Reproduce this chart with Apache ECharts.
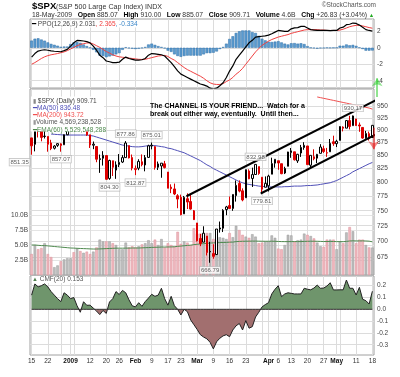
<!DOCTYPE html>
<html><head><meta charset="utf-8">
<script src="https://cdn.jsdelivr.net/npm/echarts@6/dist/echarts.min.js"></script>
<style>html,body{margin:0;padding:0;background:#fff}#c{width:400px;height:377px}</style>
</head><body><div id="c"></div>
<script>
const dates = ['Dec 15','Dec 16','Dec 17','Dec 18','Dec 19','Dec 22','Dec 23','Dec 24','Dec 26','Dec 29','Dec 30','Dec 31','Jan 2','Jan 5','Jan 6','Jan 7','Jan 8','Jan 9','Jan 12','Jan 13','Jan 14','Jan 15','Jan 16','Jan 20','Jan 21','Jan 22','Jan 23','Jan 26','Jan 27','Jan 28','Jan 29','Jan 30','Feb 2','Feb 3','Feb 4','Feb 5','Feb 6','Feb 9','Feb 10','Feb 11','Feb 12','Feb 13','Feb 17','Feb 18','Feb 19','Feb 20','Feb 23','Feb 24','Feb 25','Feb 26','Feb 27','Mar 2','Mar 3','Mar 4','Mar 5','Mar 6','Mar 9','Mar 10','Mar 11','Mar 12','Mar 13','Mar 16','Mar 17','Mar 18','Mar 19','Mar 20','Mar 23','Mar 24','Mar 25','Mar 26','Mar 27','Mar 30','Mar 31','Apr 1','Apr 2','Apr 3','Apr 6','Apr 7','Apr 8','Apr 9','Apr 13','Apr 14','Apr 15','Apr 16','Apr 17','Apr 20','Apr 21','Apr 22','Apr 23','Apr 24','Apr 27','Apr 28','Apr 29','Apr 30','May 1','May 4','May 5','May 6','May 7','May 8','May 11','May 12','May 13','May 14','May 15','May 18'];

const open = [884.28,871.53,908.16,905.98,886.96,887.20,874.31,863.87,869.51,872.37,
870.58,890.59,902.99,929.17,931.17,927.45,905.73,909.91,890.40,869.79,
867.28,841.99,844.45,849.64,806.77,839.74,822.16,832.50,837.30,845.73,
868.89,845.69,823.09,825.69,837.77,831.75,846.09,868.24,866.87,827.41,
829.91,833.95,818.61,791.06,787.91,775.87,773.25,744.69,770.64,765.76,
749.93,729.57,704.44,698.60,708.27,684.04,680.76,679.28,719.59,720.89,
751.97,758.84,753.88,776.01,797.92,784.58,772.31,820.60,806.81,814.06,
828.68,809.07,790.88,793.59,814.53,835.13,839.75,834.12,816.76,829.29,
855.33,856.88,839.44,854.54,865.18,868.27,831.25,847.26,844.62,853.91,
862.82,854.48,856.85,876.59,872.74,879.21,906.10,903.95,919.58,909.03,
922.99,910.52,905.40,884.24,892.76,885.07];
const high = [884.28,914.66,908.16,911.02,905.47,887.37,880.44,869.79,873.74,873.70,
891.12,910.32,934.73,936.63,943.85,927.45,910.00,911.93,890.40,877.02,
867.28,851.59,858.13,849.64,841.72,839.74,838.61,852.53,850.45,877.86,
868.89,851.66,830.78,842.60,851.85,850.55,870.75,875.01,868.05,838.22,
835.48,839.43,818.61,796.17,797.58,778.69,777.85,775.49,780.12,779.42,
751.27,729.57,711.67,724.12,708.27,699.09,695.27,719.60,731.92,752.63,
758.29,774.53,778.12,803.04,803.24,788.91,823.37,823.65,826.78,832.98,
828.68,809.07,810.48,813.62,845.61,842.50,839.75,834.12,828.42,856.91,
864.31,856.88,852.93,870.35,875.63,868.27,850.09,861.78,852.87,871.80,
868.83,864.48,882.06,888.70,880.48,907.85,907.70,920.28,929.58,930.17,
922.99,915.57,905.40,898.36,896.97,910.00];
const low = [851.35,857.72,885.11,877.44,883.02,857.09,860.10,861.44,866.52,857.07,
870.58,889.67,899.35,919.53,927.28,902.37,896.81,888.31,864.32,862.02,
836.93,817.04,830.66,804.47,804.30,811.29,806.07,827.69,835.40,845.73,
844.15,821.67,812.87,821.98,829.18,819.91,845.42,861.65,822.99,822.30,
808.06,825.21,789.17,780.43,777.03,754.25,742.37,744.69,752.89,751.75,
734.52,699.70,692.30,698.60,677.93,666.79,672.88,679.28,713.85,714.76,
742.46,753.37,749.93,765.64,781.82,766.20,772.31,805.48,791.37,814.06,
813.43,779.81,790.88,783.32,814.53,826.70,822.79,814.53,814.84,829.29,
845.35,840.25,835.58,847.04,860.87,832.39,826.83,840.57,835.45,853.91,
854.65,847.12,856.85,868.51,866.10,879.21,897.34,903.95,901.36,909.03,
908.68,896.46,882.52,882.52,878.94,885.07];
const close = [868.57,913.18,904.42,885.28,887.88,871.63,863.16,868.15,872.80,869.42,
890.64,903.25,931.80,927.45,934.70,906.65,909.73,890.35,870.26,871.79,
842.62,843.74,850.12,805.22,840.24,827.50,831.95,836.57,845.71,874.09,
845.14,825.88,825.44,838.51,832.23,845.85,868.60,869.89,827.16,833.74,
835.19,826.84,789.17,788.42,778.94,770.05,743.33,773.14,764.90,752.83,
735.09,700.82,696.33,712.87,682.55,683.38,676.53,719.60,721.36,750.74,
756.55,753.89,778.12,794.35,784.04,768.54,822.92,806.12,813.88,832.86,
815.94,787.53,797.87,811.08,834.38,842.50,835.48,815.55,825.16,856.56,
858.73,841.50,852.06,865.30,869.60,832.39,850.08,843.55,851.92,866.23,
857.51,855.16,873.64,872.81,877.52,907.24,903.80,919.53,907.39,929.23,
909.24,908.35,883.92,893.07,882.88,909.71];
const volumeB = [3.5,5.0,4.3,4.5,5.3,3.5,3.0,1.3,1.6,2.3,
2.6,2.8,2.8,3.8,4.4,4.0,3.7,3.9,3.5,3.9,
4.6,5.9,5.6,5.6,5.6,5.3,5.0,4.3,4.3,5.4,
4.6,4.8,4.6,4.8,5.1,5.3,5.8,5.3,5.9,5.0,
6.0,4.6,5.3,5.0,4.8,7.2,5.2,5.6,5.4,5.0,
7.8,6.9,6.9,6.5,7.0,7.0,6.0,6.4,6.3,6.2,
6.0,7.0,6.3,8.2,7.5,6.7,6.4,6.2,6.8,6.4,
5.3,5.4,5.6,5.6,6.6,6.2,4.4,4.3,5.0,6.7,
6.6,5.6,5.8,5.9,6.9,6.7,6.5,6.1,5.4,4.8,
4.7,5.9,5.9,5.9,4.3,5.6,5.3,7.1,8.0,7.3,
5.3,5.9,5.9,5.0,4.6,4.57];
const volEma60B = [5.0,5.0,4.95,4.9,4.9,4.85,4.8,4.75,4.7,4.65,
4.6,4.55,4.5,4.48,4.45,4.42,4.4,4.38,4.35,4.33,
4.33,4.35,4.37,4.4,4.42,4.45,4.47,4.47,4.47,4.48,
4.48,4.5,4.5,4.5,4.52,4.55,4.57,4.6,4.62,4.63,
4.66,4.66,4.67,4.68,4.7,4.78,4.82,4.88,4.93,4.97,
5.06,5.12,5.18,5.22,5.28,5.33,5.35,5.38,5.4,5.42,
5.43,5.47,5.48,5.56,5.6,5.62,5.63,5.64,5.65,5.65,
5.64,5.63,5.62,5.62,5.63,5.62,5.59,5.57,5.56,5.56,
5.57,5.57,5.57,5.57,5.6,5.62,5.63,5.63,5.62,5.6,
5.58,5.58,5.59,5.59,5.56,5.56,5.55,5.6,5.67,5.7,
5.68,5.68,5.69,5.67,5.64,5.53];
const ma50 = [null,null,null,null,null,null,892,891.5,891,890.5,
890,890,890,890,890,890,890,890,889,888,
886,884,882,880,878,876,874,872,870,869,
868,867,866.5,866.5,867,868,869,869,869,868,
867,866,864,863,861,859,857,855,852,849,
846,843,840,836,832,829,825,822,819,816,
813,810,807,804,801,799,797,796,795,794,
793,792.5,792,791.5,791.5,791.5,791.5,791.5,792,792,
792.5,793,793,793,793.5,794,794,794.5,795,796,
797,798,799,801,803,806,809,812,815,819,
822,825,828,831,834,836.5];
const ma200Tail = [970,968.5,967,965.5,964,962.5,961,959.5,958,956.5,955,953.5,952,950.5,949,947.5,946,943.7];
const ppo = [-1.13,-0.7,-0.4,-0.3,-0.24,-0.3,-0.38,-0.42,-0.45,-0.48,
-0.35,-0.2,0.2,0.6,0.89,0.87,0.82,0.75,0.6,0.2,
-0.3,-0.9,-1.2,-1.6,-1.7,-1.8,-1.8,-1.75,-1.4,-1.13,
-1.3,-1.4,-1.5,-1.5,-1.45,-1.3,-0.9,-0.7,-0.75,-0.8,
-0.85,-1.0,-1.4,-1.8,-2.3,-2.8,-3.2,-3.4,-3.6,-3.8,
-4.0,-4.2,-4.4,-4.5,-4.65,-4.9,-5.0,-4.9,-4.6,-4.24,
-3.6,-2.83,-2.2,-1.4,-0.9,-0.4,0.1,0.6,0.9,1.3,
1.35,1.4,1.45,1.53,1.7,1.9,2.1,2.05,2.0,2.0,
2.3,2.42,2.45,2.6,2.6,2.4,2.2,2.15,2.1,2.1,
2.1,2.1,2.08,2.1,2.1,2.4,2.5,2.8,2.85,3.0,
2.95,2.75,2.5,2.2,2.1,2.03];
const ppoSignal = [-2.0,-1.8,-1.55,-1.3,-1.1,-0.95,-0.85,-0.78,-0.7,-0.6,
-0.5,-0.35,-0.15,0.05,0.25,0.4,0.5,0.58,0.6,0.45,
0.25,0.05,-0.2,-0.45,-0.65,-0.85,-1.0,-1.1,-1.15,-1.2,
-1.25,-1.3,-1.35,-1.4,-1.42,-1.4,-1.3,-1.2,-1.1,-1.0,
-0.95,-0.93,-1.05,-1.3,-1.5,-1.8,-2.1,-2.4,-2.65,-2.85,
-3.05,-3.25,-3.45,-3.7,-4.0,-4.25,-4.4,-4.45,-4.45,-4.35,
-4.1,-3.9,-3.6,-3.2,-2.9,-2.5,-2.0,-1.5,-1.0,-0.5,
-0.1,0.3,0.55,0.8,1.0,1.15,1.3,1.4,1.5,1.6,
1.75,1.85,1.95,2.05,2.15,2.2,2.2,2.2,2.2,2.15,
2.15,2.1,2.1,2.1,2.1,2.15,2.25,2.4,2.55,2.65,
2.72,2.72,2.65,2.55,2.45,2.37];
const ppoHist = [0.87,1.1,1.15,1.0,0.86,0.65,0.47,0.36,0.25,0.12,
0.15,0.15,0.45,0.65,0.7,0.6,0.4,0.2,0.0,-0.25,
-0.55,-0.95,-1.0,-1.15,-1.05,-0.95,-0.8,-0.65,-0.25,0.07,
-0.05,-0.1,-0.15,-0.1,-0.03,0.1,0.4,0.5,0.35,0.2,
0.1,-0.07,-0.35,-0.5,-0.8,-1.0,-1.1,-1.0,-0.95,-0.95,
-0.95,-0.95,-0.95,-0.8,-0.65,-0.65,-0.6,-0.45,-0.15,0.1,
0.5,1.07,1.4,1.8,2.0,2.1,2.1,2.1,1.9,1.8,
1.45,1.1,0.9,0.73,0.7,0.75,0.8,0.65,0.5,0.4,
0.55,0.57,0.5,0.55,0.45,0.2,0.0,-0.05,-0.1,-0.05,
-0.05,0.0,-0.02,0.0,0.0,0.25,0.25,0.4,0.3,0.35,
0.23,0.03,-0.15,-0.35,-0.35,-0.33];
const cmf = [0.12,0.215,0.19,0.2,0.215,0.19,0.15,0.12,0.09,0.065,
0.14,0.12,0.09,0.1,0.03,-0.025,0.064,0.034,0.035,0.01,
-0.015,-0.045,-0.01,-0.035,0.062,0.09,0.15,0.125,0.16,0.14,
0.08,0.03,0.02,0.056,0.025,0.065,0.095,0.127,0.11,0.12,
0.178,0.09,0.035,0.11,0.03,0.0,-0.048,0.0,-0.02,-0.09,
-0.13,-0.17,-0.215,-0.235,-0.25,-0.28,-0.335,-0.275,-0.245,-0.225,
-0.215,-0.232,-0.175,-0.14,-0.12,-0.175,-0.096,-0.16,-0.147,-0.065,
-0.025,0.02,0.04,0.056,0.13,0.17,0.2,0.107,0.13,0.14,
0.135,0.13,0.13,0.13,0.178,0.17,0.165,0.18,0.205,0.178,
0.18,0.197,0.225,0.164,0.164,0.165,0.165,0.248,0.178,0.178,
0.121,0.186,0.085,0.073,0.045,0.153];

const xTickIdx = [0,5,12,18,23,27,32,37,42,46,51,56,61,66,73,76,80,85,90,94,100,105];
const xTickText = ['15','22','2009','12','20','26','Feb','9','17','23','Mar','9','16','23','Apr','6','13','20','27','May','11','18'];
const monthTicks = ['2009','Feb','Mar','Apr','May'];
const gridDays = [0,5,9,12,13,18,23,27,32,37,42,46,51,56,61,66,71,73,76,80,85,90,94,95,100,105];
const priceTicks = [675,700,725,750,775,800,825,850,875,900,925,950];
const volTicks = [2.5,5,7.5,10];
const ppoTicks = [-4,-2,0,2];
const cmfTicks = [-0.3,-0.2,-0.1,0,0.1,0.2];

const annotIdx = [0,9,24,29,32,37,55,69,71,99];
const annotPrice = [851.35,857.07,804.30,877.86,812.87,875.01,666.79,832.98,779.81,930.17];
const annotSide = ['below','below','below','above','below','above','below','above','below','above'];

const channelUpper = [[47.7,775],[114,992]];
const channelLower = [[70.6,779.8],[114,918]];
const arrowUp = [[106.5,970],[106.5,1012]];
const arrowDown = [[105.4,905],[105.4,862]];

const N = dates.length;
const ma200 = new Array(N - ma200Tail.length).fill(null).concat(ma200Tail);
const FONT = '"Liberation Sans", Arial, sans-serif';
const gridSet = new Set(gridDays);
const tickMap = {}; xTickIdx.forEach((d,k)=>tickMap[d]=xTickText[k]);

const candleData = close.map((c,i)=>{
  const prev = i>0 ? close[i-1] : open[i];
  const col = c < prev ? '#dd0000' : '#000000';
  const fill = c > open[i] ? '#ffffff' : col;
  return {value:[open[i], c, low[i], high[i]], itemStyle:{color:fill, color0:fill, borderColor:col, borderColor0:col, borderWidth:1}};
});
const volData = volumeB.map((v,i)=>{
  const down = i>0 ? close[i] < close[i-1] : close[i] < open[i];
  return {value:v, itemStyle:{color: down ? '#efb7bd' : '#bdbdbd', borderColor: down ? '#dc919a' : '#9a9a9a', borderWidth:0.5}};
});

const G = {left:30, right:26};
const CMF_TOP = 276, CMF_H = 79, CMF_MIN = -0.387, CMF_MAX = 0.282;
const zeroFrac = CMF_MAX / (CMF_MAX - CMF_MIN);
const cmfFill = new echarts.graphic.LinearGradient(0, CMF_TOP, 0, CMF_TOP + CMF_H, [
  {offset:0, color:'#6f956c'}, {offset:zeroFrac, color:'#6f956c'},
  {offset:zeroFrac, color:'#a26f6f'}, {offset:1, color:'#a26f6f'}], true);

const splitV = {show:true, interval:(i)=>gridSet.has(i), alignWithLabel:true, lineStyle:{color:'#dcdcdc', width:1}};
function catAxis(gi, showLabels){
  return {type:'category', gridIndex:gi, data:dates, boundaryGap:true,
    axisLine:{show:false}, axisTick:{show:false, alignWithLabel:true},
    splitLine: splitV,
    axisLabel: showLabels ? {show:true, margin:3, fontSize:6.5, fontFamily:FONT, color:'#333',
      interval:(i)=>tickMap[i]!==undefined,
      formatter:(v,i)=>{const t=tickMap[i]; if(t===undefined) return ''; return monthTicks.includes(t)?'{m|'+t+'}':t;},
      rich:{m:{fontWeight:'bold', fontSize:6.5, fontFamily:FONT, color:'#111'}}} : {show:false}
  };
}
const lblStyle = {fontSize:6.5, fontFamily:FONT, color:'#444', margin:3};

const option = {
  animation:false,
  backgroundColor:'#fff',
  grid:[
    Object.assign({top:19, height:69, show:true, borderColor:'#a0a0a0', borderWidth:1, backgroundColor:'#fff'}, G),
    Object.assign({top:89, height:186, show:true, borderColor:'#a0a0a0', borderWidth:1, backgroundColor:'#fff'}, G),
    Object.assign({top:89, height:186}, G),
    Object.assign({top:CMF_TOP, height:CMF_H, show:true, borderColor:'#a0a0a0', borderWidth:1, backgroundColor:'#fff'}, G),
    Object.assign({top:89, height:186}, G)
  ],
  xAxis:[catAxis(0,false), catAxis(1,false),
    Object.assign(catAxis(2,false),{splitLine:{show:false}}), catAxis(3,true),
    {type:'value', gridIndex:4, min:-0.5, max:N-0.5, show:false}],
  yAxis:[
    {type:'value', gridIndex:0, position:'right', min:-4.88, max:3.49,
      axisLine:{show:false}, axisTick:{show:false, customValues:ppoTicks},
      axisLabel:Object.assign({customValues:ppoTicks}, lblStyle),
      splitLine:{show:true, lineStyle:{color:'#dcdcdc'}}},
    {type:'log', gridIndex:1, position:'right', min:648.6, max:987.6,
      axisLine:{show:false}, axisTick:{show:false, customValues:priceTicks},
      axisLabel:Object.assign({customValues:priceTicks, formatter:(v)=>String(Math.round(v))}, lblStyle),
      splitLine:{show:true, lineStyle:{color:'#dcdcdc'}}},
    {type:'value', gridIndex:2, position:'left', min:0, max:31,
      axisLine:{show:false}, axisTick:{show:false, customValues:volTicks},
      axisLabel:Object.assign({customValues:volTicks, formatter:(v)=>v.toFixed(1)+'B'}, lblStyle, {margin:2}),
      splitLine:{show:true, lineStyle:{color:'#e4e4e4'}}},
    {type:'value', gridIndex:3, position:'right', min:CMF_MIN, max:CMF_MAX,
      axisLine:{show:false}, axisTick:{show:false, customValues:cmfTicks},
      axisLabel:Object.assign({customValues:cmfTicks, formatter:(v)=>v.toFixed(1)}, lblStyle),
      splitLine:{show:true, lineStyle:{color:'#dcdcdc'}}},
    {type:'log', gridIndex:4, min:648.6, max:987.6, show:false}
  ],
  series:[
    {type:'bar', xAxisIndex:0, yAxisIndex:0, data:ppoHist, barCategoryGap:'15%',
      itemStyle:{color:'#5a9bd0', borderColor:'#2f6fa6', borderWidth:0.5}, z:1},
    {type:'line', xAxisIndex:0, yAxisIndex:0, data:ppoSignal, symbol:'none', lineStyle:{color:'#f04040', width:1}, z:2},
    {type:'line', xAxisIndex:0, yAxisIndex:0, data:ppo, symbol:'none', lineStyle:{color:'#000', width:1.2}, z:3},
    {type:'bar', xAxisIndex:2, yAxisIndex:2, data:volData, barCategoryGap:'22%', z:1},
    {type:'line', xAxisIndex:2, yAxisIndex:2, data:volEma60B, symbol:'none', lineStyle:{color:'#4f8a4f', width:1}, z:2},
    {type:'line', xAxisIndex:1, yAxisIndex:1, data:ma50, symbol:'none', lineStyle:{color:'#5050b8', width:1}, z:3},
    {type:'line', xAxisIndex:1, yAxisIndex:1, data:ma200, symbol:'none', lineStyle:{color:'#f05050', width:1}, z:3},
    {type:'candlestick', xAxisIndex:1, yAxisIndex:1, data:candleData, barWidth:2, z:4},
    {type:'scatter', xAxisIndex:1, yAxisIndex:1, symbolSize:0, z:20, zlevel:0,
      data:annotIdx.map((d,k)=>({value:[d, annotPrice[k]],
        label:{position: annotSide[k]==='above'?'top':'bottom', offset: d===0?[-12,0]:[0,0]}})),
      label:{show:true, distance:4, formatter:(p)=>p.value[1].toFixed(2), fontSize:6, fontFamily:FONT, color:'#333',
        backgroundColor:'#fff', borderColor:'#aaa', borderWidth:0.6, padding:[1,1,0,1]}},
    {type:'line', xAxisIndex:4, yAxisIndex:4, data:channelUpper, symbol:'none', clip:false, lineStyle:{color:'#000', width:2}, z:7},
    {type:'line', xAxisIndex:4, yAxisIndex:4, data:channelLower, symbol:'none', clip:false, lineStyle:{color:'#000', width:2}, z:7},
    {type:'line', xAxisIndex:3, yAxisIndex:3, data:cmf, symbol:'none', lineStyle:{width:0, opacity:0}, areaStyle:{color:cmfFill, opacity:1}, z:2},
    {type:'line', xAxisIndex:3, yAxisIndex:3, data:cmf, symbol:'none', lineStyle:{color:'#222', width:1}, z:3},
    {type:'line', xAxisIndex:3, yAxisIndex:3, data:cmf.map(()=>0), symbol:'none', lineStyle:{color:'#333', width:1}, z:4},
    {type:'lines', coordinateSystem:'cartesian2d', xAxisIndex:4, yAxisIndex:4, clip:false, z:8,
      symbol:['none','arrow'], symbolSize:8,
      data:[{coords:arrowUp, lineStyle:{color:'#22cc22', width:2}}, {coords:arrowDown, lineStyle:{color:'#ee1111', width:2}}]}
  ],
  graphic:[
    {type:'text', x:32, y:6.5, style:{text:'$SPX', fontSize:9.5, fontWeight:'bold', fontFamily:FONT, fill:'#000', verticalAlign:'middle'}},
    {type:'text', x:56, y:7, style:{text:'(S&P 500 Large Cap Index) INDX', fontSize:7.1, fontFamily:FONT, fill:'#333', verticalAlign:'middle'}},
    {type:'text', x:376, y:5.5, style:{text:'©StockCharts.com', fontSize:6.5, fontFamily:FONT, fill:'#555', align:'right', verticalAlign:'middle'}},
    {type:'text', x:32, y:15, style:{text:'18-May-2009   {b|Open} 885.07   {b|High} 910.00   {b|Low} 885.07   {b|Close} 909.71   {b|Volume} 4.6B   {b|Chg} +26.83 (+3.04%) {g|▲}',
      fontSize:6.8, fontFamily:FONT, fill:'#333', verticalAlign:'middle',
      rich:{b:{fontWeight:'bold', fontSize:6.8, fontFamily:FONT, fill:'#000'}, g:{fontSize:5.5, fill:'#22aa22', fontFamily:FONT}}}},
    {type:'text', x:32, y:24, z:10, style:{text:'{k|━} PPO(12,26,9) 2.031{r|, 2.365}{u|, -0.334}',
      fontSize:6.5, fontFamily:FONT, fill:'#444', verticalAlign:'middle', backgroundColor:'#fff',
      rich:{k:{fill:'#000', fontSize:6.5}, r:{fill:'#f04040', fontSize:6.5, fontFamily:FONT}, u:{fill:'#3a86c8', fontSize:6.5, fontFamily:FONT}}}},
    {type:'rect', z:9, shape:{x:31, y:96.5, width:73, height:35}, style:{fill:'#fff'}},
    {type:'text', x:33, y:101, z:10, style:{text:'{i|▮} $SPX (Daily) 909.71', fontSize:6.5, fontFamily:FONT, fill:'#444', verticalAlign:'middle', rich:{i:{fill:'#888', fontSize:6}}}},
    {type:'text', x:33, y:108.2, z:10, style:{text:'{i|━}MA(50) 836.48', fontSize:6.5, fontFamily:FONT, fill:'#5050b8', verticalAlign:'middle', rich:{i:{fill:'#5050b8', fontSize:6.5}}}},
    {type:'text', x:33, y:115.4, z:10, style:{text:'{i|━}MA(200) 943.72', fontSize:6.5, fontFamily:FONT, fill:'#f05050', verticalAlign:'middle', rich:{i:{fill:'#f05050', fontSize:6.5}}}},
    {type:'text', x:33, y:122.6, z:10, style:{text:'{i|▮}Volume 4,569,238,528', fontSize:6.5, fontFamily:FONT, fill:'#555', verticalAlign:'middle', rich:{i:{fill:'#999', fontSize:6}}}},
    {type:'text', x:33, y:129.8, z:10, style:{text:'{i|━}EMA(60) 5,529,548,288', fontSize:6.5, fontFamily:FONT, fill:'#4f8a4f', verticalAlign:'middle', rich:{i:{fill:'#4f8a4f', fontSize:6.5}}}},
    {type:'text', x:150, y:106.5, z:10, style:{text:'The CHANNEL IS YOUR FRIEND...  Watch for a', fontSize:7, fontWeight:'bold', fontFamily:FONT, fill:'#000', verticalAlign:'middle'}},
    {type:'text', x:150, y:114.3, z:10, style:{text:'break out either way, eventually.  Until then...', fontSize:7, fontWeight:'bold', fontFamily:FONT, fill:'#000', verticalAlign:'middle'}},
    {type:'text', x:32, y:279.5, z:10, style:{text:'{i|▲} CMF(20) 0.153', fontSize:6.5, fontFamily:FONT, fill:'#555', verticalAlign:'middle', backgroundColor:'#fff', rich:{i:{fill:'#4f7f4f', fontSize:6}}}}
  ]
};
const chart = echarts.init(document.getElementById('c'), null, {renderer:'canvas', width:400, height:377});
chart.setOption(option);
</script></body></html>
